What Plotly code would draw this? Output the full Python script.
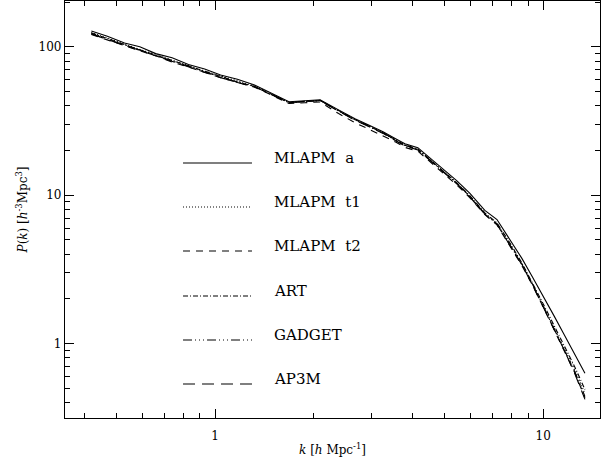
import plotly.graph_objects as go

# wavenumbers k [h Mpc^-1]
k = [0.42, 0.47, 0.53, 0.59, 0.66, 0.74, 0.83, 0.93, 1.04, 1.17, 1.32, 1.48, 1.68, 1.88, 2.09,
     2.38, 2.67, 2.95, 3.25, 3.55, 3.79, 4.15, 4.55, 5.0, 5.46, 5.98, 6.64, 7.23, 7.9, 8.61,
     9.3, 10.0, 10.8, 11.6, 12.5, 13.4]

p_mlapm_a = [128, 118, 106, 100, 90, 84.5, 76, 71, 64.5, 60.5, 55.4, 49.0, 42.6, 43.3, 44.0,
             37.6, 32.7, 29.6, 26.8, 24.0, 22.2, 20.9, 17.6, 14.7, 12.5, 10.3, 7.9, 6.85, 5.05, 3.75,
             2.78, 2.1, 1.53, 1.14, 0.84, 0.63]
p_mlapm_t1 = [125, 114, 104.5, 96, 89, 81, 75, 68.5, 63.5, 58.5, 54.5, 48.5, 42.2, 43.0, 43.5,
              37.0, 32.2, 29.0, 26.2, 23.4, 21.6, 20.3, 17.0, 14.1, 12.0, 9.8, 7.5, 6.4, 4.7, 3.45,
              2.5, 1.8, 1.28, 0.93, 0.66, 0.46]
p_mlapm_t2 = [121, 111, 102, 94, 87, 79, 73, 67, 62, 57.5, 53.5, 47.5, 41.5, 42.0, 42.5,
              35.5, 30.8, 27.8, 25.2, 22.8, 21.0, 19.8, 16.6, 13.8, 11.7, 9.6, 7.4, 6.3, 4.6, 3.35,
              2.45, 1.75, 1.24, 0.9, 0.63, 0.43]
p_art = [124, 113, 103.5, 95.5, 88, 80.5, 74, 68, 63, 58, 54, 48, 42, 42.8, 43.5,
         37.2, 32.4, 29.2, 26.4, 23.6, 21.8, 20.5, 17.2, 14.3, 12.1, 9.9, 7.6, 6.5, 4.8, 3.5,
         2.55, 1.85, 1.32, 0.97, 0.69, 0.49]
p_gadget = [123, 112, 103, 95, 87.5, 80, 73.5, 67.5, 62.5, 58, 54, 48, 42.2, 42.9, 43.6,
            37.0, 32.3, 29.1, 26.3, 23.5, 21.7, 20.4, 17.1, 14.2, 12.0, 9.8, 7.5, 6.4, 4.7, 3.42,
            2.48, 1.78, 1.26, 0.92, 0.64, 0.44]
p_ap3m = [122, 111.5, 102.5, 94.5, 87, 79.5, 73, 67, 62, 57.5, 53.8, 47.8, 42.0, 42.8, 43.4,
          36.8, 32.0, 28.9, 26.1, 23.3, 21.5, 20.2, 16.9, 14.0, 11.9, 9.7, 7.45, 6.35, 4.65, 3.4,
          2.45, 1.76, 1.24, 0.9, 0.62, 0.42]

names = ["MLAPM a", "MLAPM t1", "MLAPM t2", "ART", "GADGET", "AP3M"]
series = [p_mlapm_a, p_mlapm_t1, p_mlapm_t2, p_art, p_gadget, p_ap3m]
dashes = ["solid", "1px,2px", "7px,6px", "5px,2px,1px,2px",
          "9px,3px,1px,3px,1px,3px,1px,3px", "12px,7px"]

x_major = [1, 10]
x_minor = [0.4, 0.5, 0.6, 0.7, 0.8, 0.9, 2, 3, 4, 5, 6, 7, 8, 9]
y_major = [1, 10, 100]
y_minor = [0.4, 0.5, 0.6, 0.7, 0.8, 0.9, 2, 3, 4, 5, 6, 7, 8, 9,
           20, 30, 40, 50, 60, 70, 80, 90, 200]

FONT = "DejaVu Serif"

fig = go.Figure()
for name, p, d in zip(names, series, dashes):
    fig.add_trace(go.Scatter(x=k, y=p, mode="lines", name=name,
                             line=dict(color="black", width=1.1, dash=d),
                             showlegend=False))

# hand-placed legend (as in original figure)
leg_y = [0.6115, 0.506, 0.4005, 0.2926, 0.187, 0.0815]
for name, d, yy in zip(names, dashes, leg_y):
    fig.add_shape(type="line", xref="paper", yref="paper",
                  x0=0.2206, x1=0.3495, y0=yy, y1=yy,
                  line=dict(color="black", width=1.1, dash=d))
    fig.add_annotation(xref="paper", yref="paper", x=0.387, y=yy, yshift=5,
                       text=name.replace(" ", "&nbsp;&nbsp;"), showarrow=False,
                       xanchor="left", yanchor="middle",
                       font=dict(family=FONT, size=15, color="black"))

axis_common = dict(type="log", showgrid=False, zeroline=False, showline=True,
                   linecolor="black", linewidth=1.3, mirror="allticks",
                   ticks="inside", ticklen=9, tickwidth=1, tickcolor="black",
                   tickfont=dict(family=FONT, size=12, color="black"))

fig.update_layout(
    width=606, height=461,
    margin=dict(l=65, r=6, t=1, b=43),
    paper_bgcolor="white", plot_bgcolor="white",
    xaxis=dict(**axis_common, range=[-0.457, 1.173],
               tickmode="array", tickvals=x_major, ticktext=["1", "10"],
               ticklabelstandoff=6,
               minor=dict(tickmode="array", tickvals=x_minor, ticks="inside",
                          ticklen=5, tickcolor="black", showgrid=False),
               title=dict(text="<i>k</i> [<i>h</i> Mpc<sup>-1</sup>]",
                          font=dict(family=FONT, size=12, color="black"), standoff=4)),
    yaxis=dict(**axis_common, range=[-0.502, 2.309],
               tickmode="array", tickvals=y_major, ticktext=["1", "10", "100"],
               minor=dict(tickmode="array", tickvals=y_minor, ticks="inside",
                          ticklen=5, tickcolor="black", showgrid=False),
               title=dict(text="<i>P</i>(<i>k</i>) [<i>h</i><sup>-3</sup>Mpc<sup>3</sup>]",
                          font=dict(family=FONT, size=12, color="black"), standoff=8)),
)

fig.write_html("out.html")
